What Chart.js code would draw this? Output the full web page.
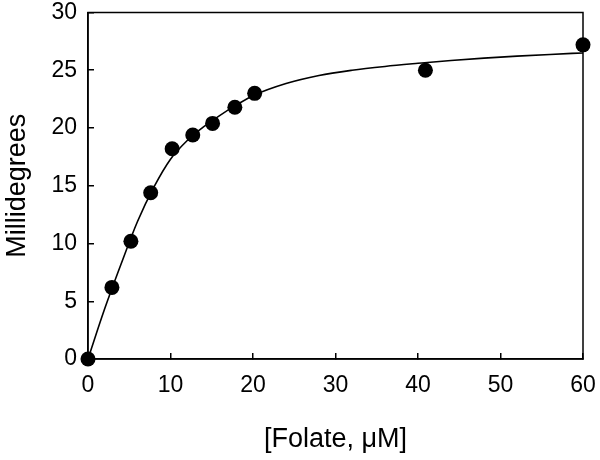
<!DOCTYPE html>
<html>
<head>
<meta charset="utf-8">
<script src="https://cdn.jsdelivr.net/npm/chart.js@4.4.1/dist/chart.umd.min.js"></script>
<style>
  html, body { margin: 0; padding: 0; background: #fff; overflow: hidden; }
  #wrap { width: 600px; height: 460px; }
  canvas { display: block; }
</style>
</head>
<body>
<div id="wrap"><canvas id="cd"></canvas></div>
<script>
// measured points
var folate = [0, 2.9, 5.2, 7.6, 10.2, 12.7, 15.1, 17.8, 20.2, 40.9, 60];
var millideg = [0, 6.2, 10.2, 14.4, 18.2, 19.4, 20.4, 21.8, 23.0, 25.0, 27.2];

// fitted curve
var fitX = [0, 2, 4, 6, 8, 10, 12, 14, 16, 18, 20, 24, 28, 32, 36, 40, 44, 48, 52, 56, 60];
var fitY = [0, 4.3, 8.2, 11.9, 14.9, 17.3, 18.9, 20.1, 21.1, 22.0, 22.8, 23.85, 24.55, 25.0, 25.33, 25.6, 25.85, 26.05, 26.22, 26.37, 26.5];

var xTicks = [0, 10, 20, 30, 40, 50, 60];
var yTicks = [0, 5, 10, 15, 20, 25, 30];

function toXY(xs, ys){
  var out = [];
  for (var i = 0; i < xs.length; i++) {
    out.push({x: xs[i], y: ys[i]});
  }
  return out;
}

// box round the plot area
var frame = {
  id: 'frame',
  afterDraw: function(chart){
    var a = chart.chartArea;
    var ctx = chart.ctx;
    ctx.save();
    ctx.strokeStyle = '#000';
    ctx.lineWidth = 1.5;
    ctx.strokeRect(a.left, a.top, a.right - a.left, a.bottom - a.top);
    ctx.restore();
  }
};

// labels hang over the plot edges, keep chartjs from reserving room for them
function noEdgePad(s){
  s.paddingLeft = 0;
  s.paddingRight = 0;
  s.paddingTop = 0;
  s.paddingBottom = 0;
}

var tickFont = {family: '"Liberation Sans", Arial, sans-serif', size: 23};
var titleFont = {family: '"Liberation Sans", Arial, sans-serif', size: 27, lineHeight: 1.2};

new Chart(document.getElementById('cd'), {
  type: 'scatter',
  data: {
    datasets: [{
      label: 'fit',
      data: toXY(fitX, fitY),
      showLine: true,
      borderColor: '#000',
      borderWidth: 1.6,
      pointRadius: 0,
      cubicInterpolationMode: 'monotone',
      clip: false,
      order: 2
    }, {
      label: 'data',
      data: toXY(folate, millideg),
      showLine: false,
      pointRadius: 7.5,
      pointBackgroundColor: '#000',
      pointBorderColor: '#000',
      pointBorderWidth: 0,
      clip: false,
      order: 1
    }]
  },
  plugins: [frame],
  options: {
    responsive: true,
    maintainAspectRatio: false,
    animation: false,
    devicePixelRatio: 1,
    layout: {padding: {left: 0, right: 17, top: 12.5, bottom: 0}},
    plugins: {
      legend: {display: false},
      tooltip: {enabled: false}
    },
    scales: {
      x: {
        type: 'linear',
        min: 0,
        max: 60,
        afterBuildTicks: function(s){ s.ticks = xTicks.map(function(v){ return {value: v}; }); },
        afterFit: function(s){ s.height = 101; noEdgePad(s); },
        grid: {drawOnChartArea: false, drawTicks: true, tickLength: -6, color: '#000', lineWidth: 1.5},
        border: {display: true, color: '#000', width: 1.5},
        ticks: {color: '#000', font: tickFont, padding: 19, maxRotation: 0},
        title: {display: true, text: '[Folate, μM]', color: '#000', font: titleFont, padding: {top: 0, bottom: 4}}
      },
      y: {
        type: 'linear',
        min: 0,
        max: 30,
        afterBuildTicks: function(s){ s.ticks = yTicks.map(function(v){ return {value: v}; }); },
        afterFit: function(s){ s.width = 88; noEdgePad(s); },
        grid: {drawOnChartArea: false, drawTicks: true, tickLength: -6, color: '#000', lineWidth: 1.5},
        border: {display: true, color: '#000', width: 1.5},
        ticks: {color: '#000', font: tickFont, padding: 17},
        title: {display: true, text: 'Millidegrees', color: '#000', font: titleFont, padding: {top: 1, bottom: 0}}
      }
    }
  }
});
</script>
</body>
</html>
